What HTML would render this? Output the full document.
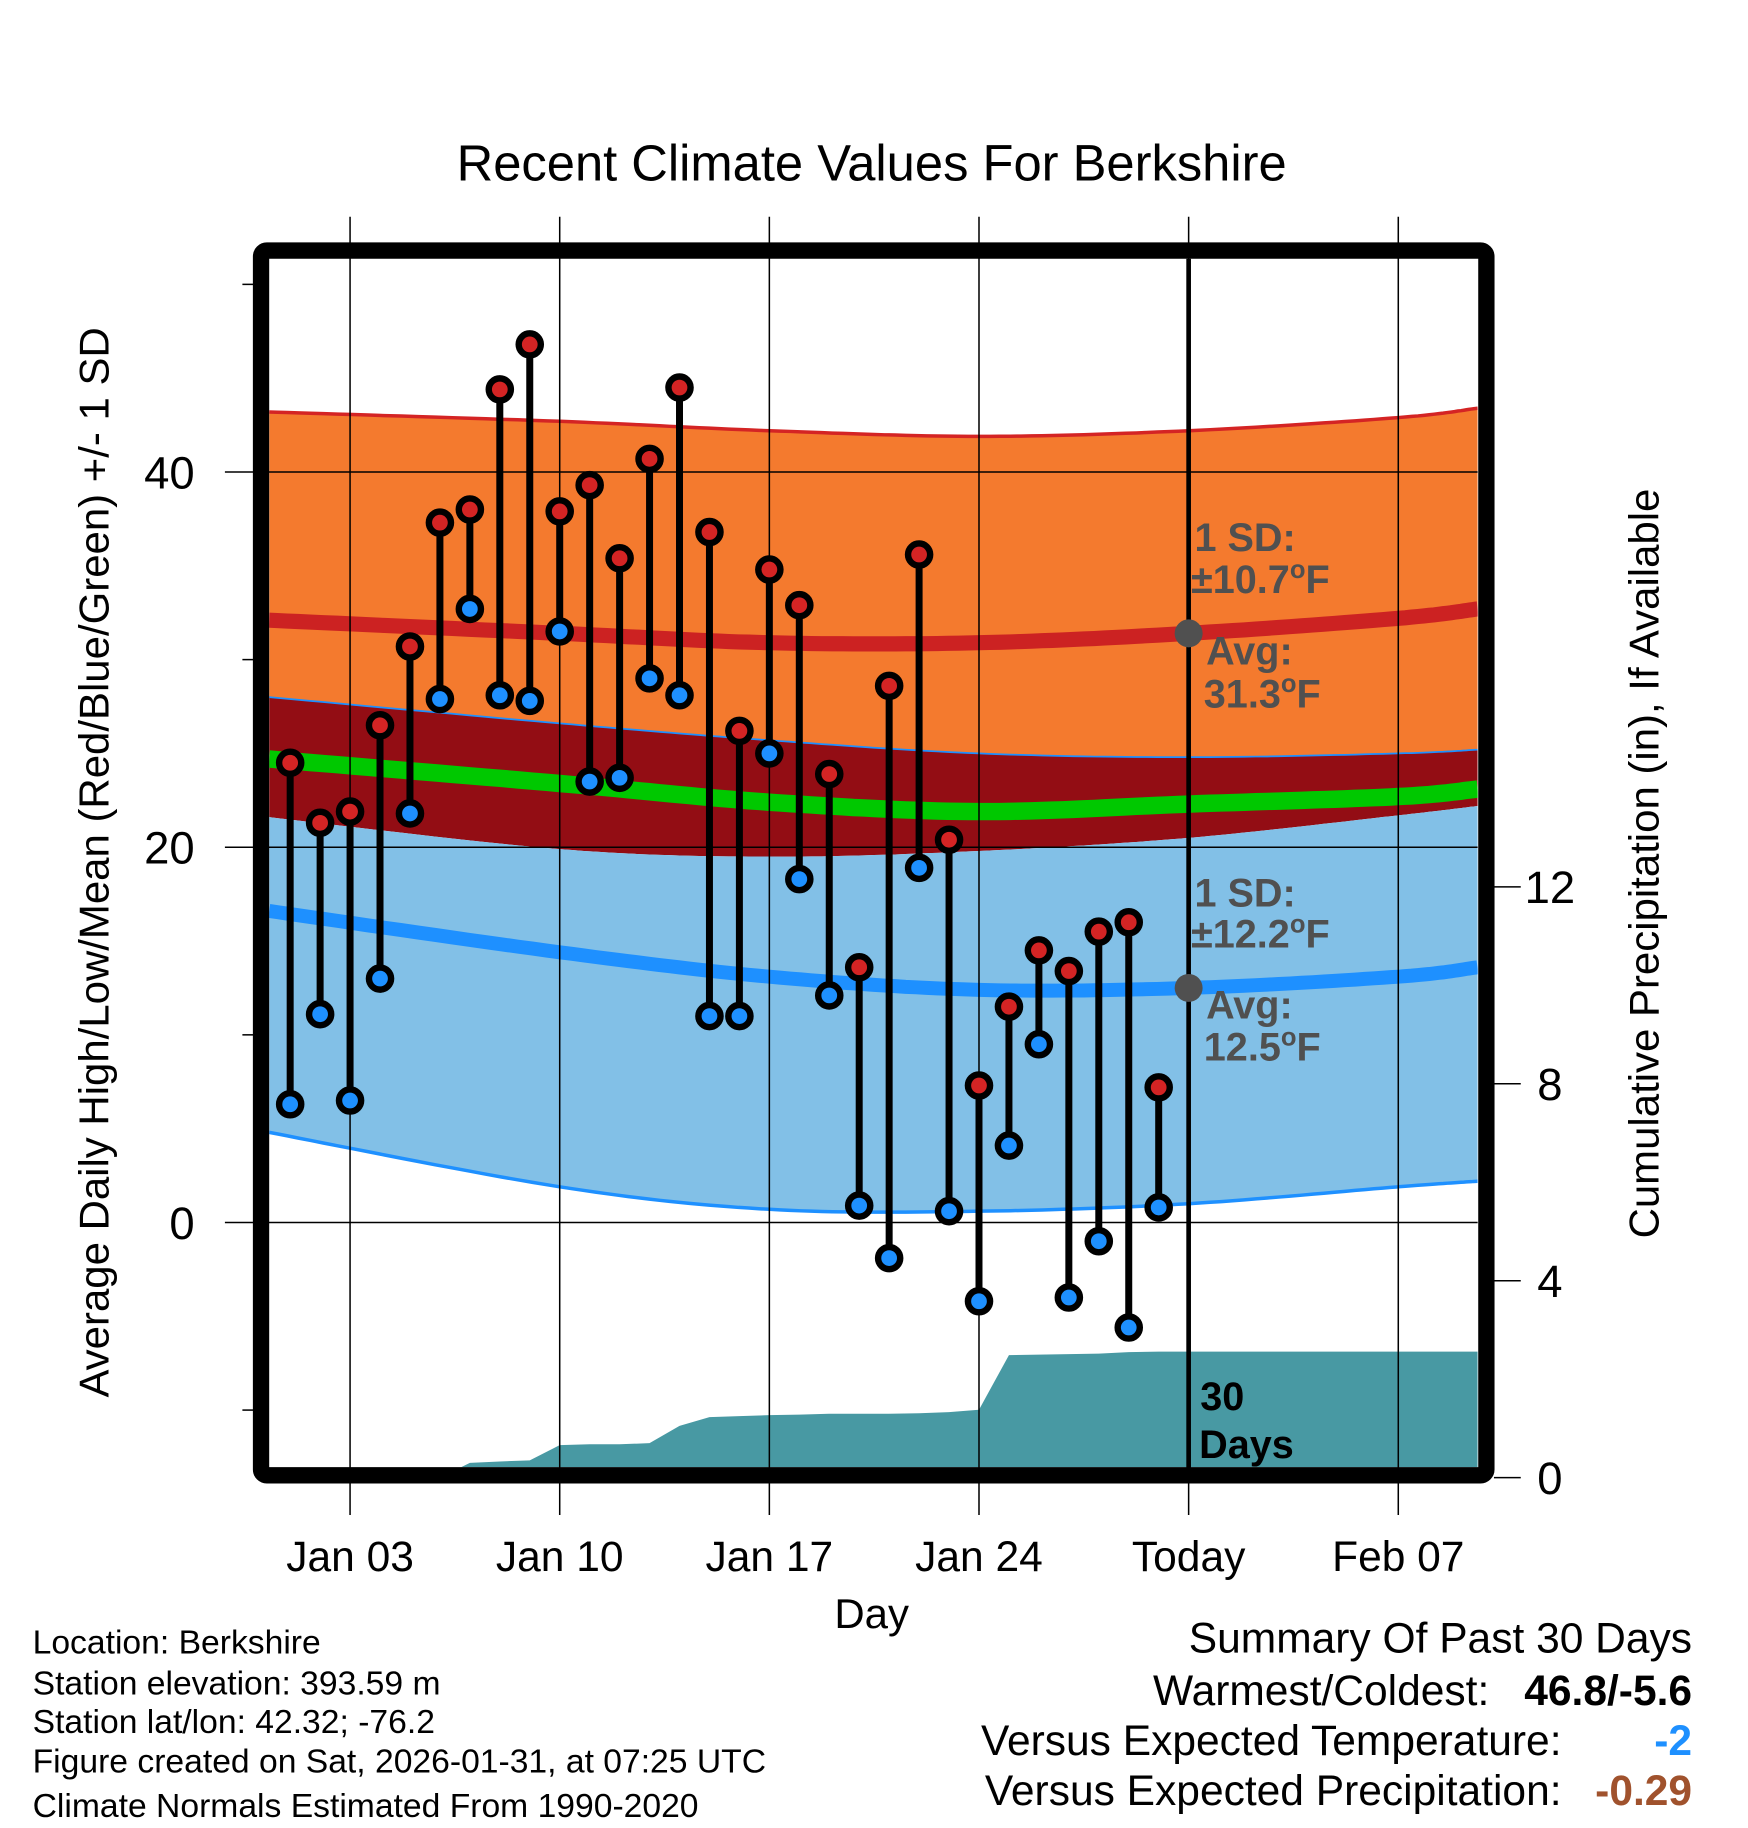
<!DOCTYPE html>
<html><head><meta charset="utf-8">
<style>
html,body{margin:0;padding:0;background:#fff;}
svg{display:block;font-family:"Liberation Sans",Arial,sans-serif;}
</style></head>
<body>
<svg id="chart" width="1748" height="1828" viewBox="0 0 1500 1568.6" xmlns="http://www.w3.org/2000/svg">
<defs><clipPath id="plotclip"><rect x="231" y="222" width="1037" height="1037"/></clipPath></defs>
<rect x="0" y="0" width="1500" height="1568.6" fill="#fff"/>
<text x="748" y="155" font-size="43.5" text-anchor="middle">Recent Climate Values For Berkshire</text>
<g id="layers" clip-path="url(#plotclip)"></g>
<g id="grid"></g>
<g id="marks"></g>
<g id="axes"></g>
<rect x="224" y="215" width="1051.5" height="1051" rx="5" fill="none" stroke="#000" stroke-width="14"/>
<g id="annot">
<g font-weight="bold" fill="#505050" font-size="34">
<text x="1025" y="473">1 SD:</text>
<text x="1022" y="509">±10.7<tspan font-size="22" dy="-13">o</tspan><tspan dy="13">F</tspan></text>
<text x="1035" y="570">Avg:</text>
<text x="1033" y="607">31.3<tspan font-size="22" dy="-13">o</tspan><tspan dy="13">F</tspan></text>
<text x="1025" y="778">1 SD:</text>
<text x="1022" y="813">±12.2<tspan font-size="22" dy="-13">o</tspan><tspan dy="13">F</tspan></text>
<text x="1035" y="874">Avg:</text>
<text x="1033" y="910">12.5<tspan font-size="22" dy="-13">o</tspan><tspan dy="13">F</tspan></text>
</g>
<g font-weight="bold" fill="#000" font-size="34">
<text x="1030" y="1210">30</text>
<text x="1029" y="1251">Days</text>
</g>
</g>
<text font-size="36" text-anchor="middle" transform="translate(93,740) rotate(-90)">Average Daily High/Low/Mean (Red/Blue/Green) +/- 1 SD</text>
<text font-size="36" text-anchor="middle" transform="translate(1423,741) rotate(-90)">Cumulative Precipitation (in), If Available</text>
<text x="748" y="1397" font-size="36" text-anchor="middle">Day</text>
<g font-size="28.9">
<text x="28" y="1419">Location: Berkshire</text>
<text x="28" y="1454">Station elevation: 393.59 m</text>
<text x="28" y="1487">Station lat/lon: 42.32; -76.2</text>
<text x="28" y="1521">Figure created on Sat, 2026-01-31, at 07:25 UTC</text>
<text x="28" y="1559">Climate Normals Estimated From 1990-2020</text>
</g>
<g font-size="36.5">
<text x="1452" y="1418" text-anchor="end">Summary Of Past 30 Days</text>
<text x="1278" y="1463" text-anchor="end">Warmest/Coldest:</text>
<text x="1452" y="1463" text-anchor="end" font-weight="bold">46.8/-5.6</text>
<text x="1340" y="1506" text-anchor="end">Versus Expected Temperature:</text>
<text x="1452" y="1506" text-anchor="end" font-weight="bold" fill="#1e90ff">-2</text>
<text x="1340" y="1549" text-anchor="end">Versus Expected Precipitation:</text>
<text x="1452" y="1549" text-anchor="end" font-weight="bold" fill="#a0522d">-0.29</text>
</g>
</svg>
<script>
// Data
const highs = [24.5,21.3,21.9,26.5,30.7,37.3,38.0,44.4,46.8,37.9,39.3,35.4,40.7,44.5,36.8,26.2,34.8,32.9,23.9,13.6,28.6,35.6,20.4,7.3,11.5,14.5,13.4,15.5,16.0,7.2];
const lows = [6.3,11.1,6.5,13.0,21.8,27.9,32.7,28.1,27.8,31.5,23.5,23.7,29.0,28.1,11.0,11.0,25.0,18.3,12.1,0.9,-1.9,18.9,0.6,-4.2,4.1,9.5,-4.0,-1.0,-5.6,0.8];
const precipCum = [0,0,0,0,0,0,0.3,0.33,0.35,0.66,0.68,0.68,0.7,1.05,1.23,1.25,1.27,1.28,1.3,1.3,1.3,1.31,1.33,1.38,2.49,2.5,2.51,2.52,2.55,2.56];
const normDays = [0.3,10,17,24,31,38,40.65];
const normHighPlus = [43.2,42.7,42.2,41.9,42.2,42.9,43.4];
const normHigh = [32.1,31.4,30.9,30.9,31.4,32.2,32.7];
const normHighMinus = [28.0,26.6,25.7,25.0,24.8,25.0,25.2];
const normMean = [24.7,23.4,22.4,21.9,22.3,22.7,23.1];
const normLowPlus = [21.6,19.9,19.5,19.8,20.5,21.7,22.2];
const normLow = [16.6,14.4,13.1,12.4,12.5,13.1,13.6];
const normLowMinus = [4.8,1.9,0.7,0.6,1.0,1.9,2.2];
const yTicks = [0,20,40];
const yMinor = [-10,10,30,50];
const y2Ticks = [0,4,8,12];
const xTickDays = [3,10,17,24,31,38];
const xTickLabels = ["Jan 03","Jan 10","Jan 17","Jan 24","Today","Feb 07"];

const NS="http://www.w3.org/2000/svg";
const X = d => 249 + 25.7*(d-1);
const Y = t => 1049 - 16.1*t;
const YP = p => 1268 - 42.25*p;
function mk(tag, attrs, parent){const e=document.createElementNS(NS,tag);for(const k in attrs)e.setAttribute(k,attrs[k]);parent.appendChild(e);return e;}
function curvePts(vals){
  const pts=[];
  const n=normDays.length;
  for(let i=0;i<n-1;i++){
    const p0=i>0?i-1:i,p3=i+2<n?i+2:i+1;
    for(let s=0;s<20;s++){
      const u=s/20;
      const cr=(a,b,c,d)=>0.5*((2*b)+(-a+c)*u+(2*a-5*b+4*c-d)*u*u+(-a+3*b-3*c+d)*u*u*u);
      const d=cr(normDays[p0],normDays[i],normDays[i+1],normDays[p3]);
      const v=cr(vals[p0],vals[i],vals[i+1],vals[p3]);
      pts.push([X(d),Y(v)]);
    }
  }
  pts.push([X(normDays[n-1]),Y(vals[n-1])]);
  return pts;
}
const ptsStr=p=>p.map(q=>q[0].toFixed(1)+','+q[1].toFixed(1)).join(' ');
function band(top,bot,fill,name){
  const a=curvePts(top),b=curvePts(bot).reverse();
  const el=mk('polygon',{points:ptsStr(a.concat(b)),fill:fill},layers);
  
  
}
function line(vals,color,w,name){
  const el=mk('polyline',{points:ptsStr(curvePts(vals)),fill:'none',stroke:color,'stroke-width':w},layers);
  
  
}
const layers=document.getElementById('layers');
band(normHighPlus,normHighMinus,'#f47a2e','high-sd-band');
band(normHighMinus,normLowPlus,'#930d14','overlap-band');
band(normLowPlus,normLowMinus,'#82c0e7','low-sd-band');
line(normHighPlus,'#d42424',3,'high-plus-sd-line');
line(normHighMinus,'#1e90ff',1.5,'high-minus-sd-line');
line(normLowMinus,'#1e90ff',3,'low-minus-sd-line');
line(normHigh,'#cc2222',13,'normal-high-line');
line(normMean,'#00c800',15,'normal-mean-line');
line(normLow,'#1e90ff',12,'normal-low-line');
// precip area
{
  const pts=[[231,YP(0)]];
  precipCum.forEach((p,i)=>pts.push([X(i+1),YP(p)]));
  pts.push([1268,YP(precipCum[precipCum.length-1])]);
  pts.push([1268,1270]);pts.push([231,1270]);
  const el=mk('polygon',{points:ptsStr(pts),fill:'#4899a3'},layers);
  
  
}
// grid
const grid=document.getElementById('grid');
xTickDays.forEach((d,i)=>{
  const el=mk('line',{x1:X(d),x2:X(d),y1:186,y2:1300,stroke:'#000','stroke-width':1.3},grid);
  
  
});
yTicks.forEach(t=>{
  const el=mk('line',{x1:193,x2:1268,y1:Y(t),y2:Y(t),stroke:'#000','stroke-width':1.3},grid);
  
  
});
{
  const el=mk('line',{x1:X(31),x2:X(31),y1:222,y2:1262,stroke:'#000','stroke-width':4},grid);
  
  
  const c1=mk('circle',{cx:X(31),cy:Y(normHigh[4]),r:12,fill:'#505050'},grid);
  
  
  const c2=mk('circle',{cx:X(31),cy:Y(normLow[4]),r:12,fill:'#505050'},grid);
  
  
}
// marks
const marks=document.getElementById('marks');
highs.forEach((h,i)=>{
  const x=X(i+1);
  const s=mk('line',{x1:x,x2:x,y1:Y(h),y2:Y(lows[i]),stroke:'#000','stroke-width':6},marks);
  
  
});
highs.forEach((h,i)=>{
  const x=X(i+1);
  const a=mk('circle',{cx:x,cy:Y(h),r:9.5,fill:'#d42424',stroke:'#000','stroke-width':5.5},marks);
  
  
  const b=mk('circle',{cx:x,cy:Y(lows[i]),r:9.5,fill:'#1e90ff',stroke:'#000','stroke-width':5.5},marks);
  
  
});
// axes
const axes=document.getElementById('axes');
yTicks.forEach(t=>{
  const el=mk('text',{x:167,y:Y(t)+14,'font-size':39,'text-anchor':'end'},axes);
  el.textContent=t;
  
  
});
yMinor.forEach(t=>{
  const el=mk('line',{x1:208,x2:218,y1:Y(t),y2:Y(t),stroke:'#000','stroke-width':1.3},axes);
  
  
});
y2Ticks.forEach(p=>{
  const l=mk('line',{x1:1282,x2:1305,y1:YP(p),y2:YP(p),stroke:'#000','stroke-width':1.3},axes);
  
  
  const el=mk('text',{x:1330,y:YP(p)+14,'font-size':39,'text-anchor':'middle'},axes);
  el.textContent=p;
  
  
});
xTickDays.forEach((d,i)=>{
  const el=mk('text',{x:X(d),y:1348,'font-size':36.5,'text-anchor':'middle'},axes);
  el.textContent=xTickLabels[i];
  
  
});
</script>
</body></html>
